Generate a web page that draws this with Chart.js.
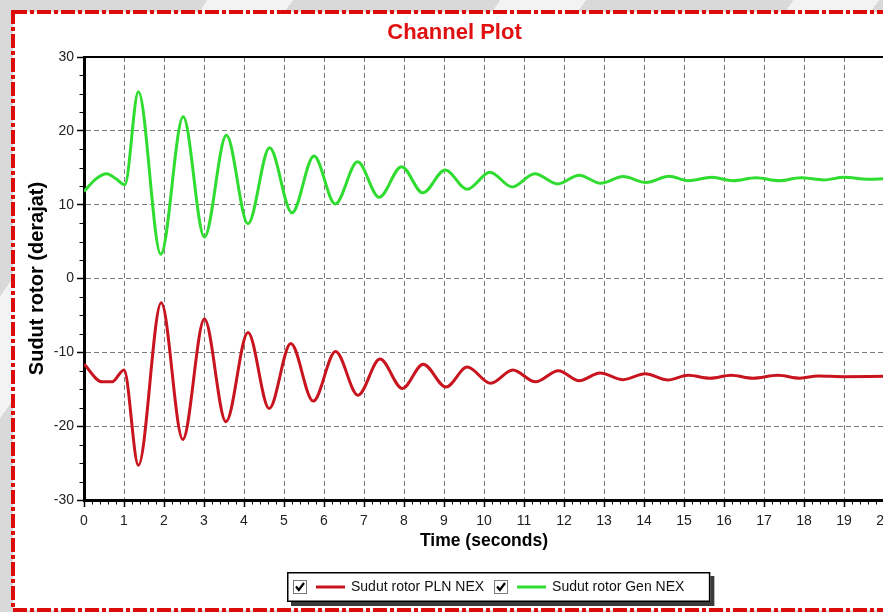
<!DOCTYPE html>
<html>
<head>
<meta charset="utf-8">
<title>Channel Plot</title>
<script src="https://cdn.jsdelivr.net/npm/chart.js@4.4.1/dist/chart.umd.min.js"></script>
<style>
  html, body {
    margin: 0; padding: 0; overflow: hidden;
    width: 883px; height: 612px;
    background: repeating-linear-gradient(125deg, #d9d9d9 0 170px, #f3f3f3 170px 240px);
  }
  #wrap { position: absolute; left: 0; top: 0; width: 900px; height: 612px; }
</style>
</head>
<body>
<div id="wrap"><canvas id="plot" width="900" height="612"></canvas></div>
<script>
// Rotor angle swing after the disturbance at t = 1 s (degrees vs seconds)
const seriesNames = ['Sudut rotor PLN NEX', 'Sudut rotor Gen NEX'];

const plnTime  = [0, 0.45, 0.7, 1.0, 1.36, 1.93, 2.47, 3.01, 3.55, 4.1, 4.63, 5.17, 5.73, 6.29, 6.85,
                  7.4, 7.96, 8.48, 9.05, 9.58, 10.17, 10.72, 11.29, 11.86, 12.38, 12.9, 13.48, 14.03,
                  14.6, 15.1, 15.65, 16.18, 16.72, 17.35, 17.9, 18.35, 19.0, 20.0];
const plnAngle = [-11.6, -14.0, -14.0, -12.4, -25.3, -3.3, -21.8, -5.5, -19.4, -7.3, -17.6, -8.8, -16.6, -9.9, -15.8,
                  -10.9, -14.9, -11.6, -14.7, -12.0, -14.2, -12.4, -14.0, -12.5, -13.85, -12.8, -13.7, -12.9,
                  -13.75, -13.1, -13.5, -13.1, -13.5, -13.1, -13.5, -13.2, -13.3, -13.25];

const genTime  = [0, 0.3, 0.57, 0.8, 1.02, 1.36, 1.92, 2.48, 3.01, 3.56, 4.1, 4.64, 5.2, 5.75, 6.28, 6.84,
                  7.38, 7.94, 8.47, 9.03, 9.58, 10.15, 10.7, 11.27, 11.84, 12.38, 12.92, 13.48, 14.05,
                  14.63, 15.1, 15.7, 16.22, 16.8, 17.38, 17.92, 18.5, 19.0, 19.6, 20.0];
const genAngle = [11.8, 13.5, 14.2, 13.5, 12.7, 25.3, 3.3, 21.9, 5.6, 19.4, 7.4, 17.7, 8.9, 16.6, 10.1, 15.8,
                  11.0, 15.15, 11.6, 14.7, 12.1, 14.4, 12.4, 14.2, 12.8, 14.0, 12.9, 13.8, 13.0,
                  13.85, 13.25, 13.7, 13.25, 13.65, 13.25, 13.65, 13.35, 13.7, 13.45, 13.5];

const timeTicks  = [0, 1, 2, 3, 4, 5, 6, 7, 8, 9, 10, 11, 12, 13, 14, 15, 16, 17, 18, 19, 20];
const angleTicks = [-30, -20, -10, 0, 10, 20, 30];

const FONT = "'Liberation Sans', Arial, Helvetica, sans-serif";
const RED = '#c8141e';
const GREEN = '#2fdc2f';

function points(ts, vs) { return ts.map((t, i) => ({ x: t, y: vs[i] })); }

// White panel with a red dash-dot frame behind the chart
const framePlugin = {
  id: 'frame',
  beforeDraw(chart) {
    const c = chart.ctx;
    c.save();
    c.fillStyle = '#ffffff';
    c.fillRect(13, 12, 884, 598);
    c.strokeStyle = '#dd0b0b';
    c.lineWidth = 4;
    c.setLineDash([14, 3, 4, 3]);
    c.strokeRect(13, 12, 884, 598);
    c.restore();
  }
};

// Minor tick marks and the thin top edge of the plot box
const minorTicks = {
  id: 'minorTicks',
  afterDraw(chart) {
    const c = chart.ctx, xs = chart.scales.x, ys = chart.scales.y, a = chart.chartArea;
    c.save();
    c.strokeStyle = '#000';
    c.lineWidth = 1;
    c.beginPath();
    for (let i = 0; i <= 100; i++) {
      if (i % 5 === 0) continue;
      const px = Math.round(xs.getPixelForValue(i / 5)) + 0.5;
      c.moveTo(px, a.bottom + 1); c.lineTo(px, a.bottom + 4.5);
    }
    for (let i = -12; i <= 12; i++) {
      if (i % 4 === 0) continue;
      const py = Math.round(ys.getPixelForValue(i * 2.5)) + 0.5;
      c.moveTo(a.left - 4.5, py); c.lineTo(a.left - 1, py);
    }
    c.stroke();
    c.lineWidth = 2;
    c.beginPath();
    c.moveTo(a.left, a.top); c.lineTo(a.right, a.top);
    c.stroke();
    c.restore();
  }
};

// Legend box with check boxes, line samples and series names
const legendBox = {
  id: 'legendBox',
  afterDraw(chart) {
    const c = chart.ctx;
    const sets = chart.data.datasets;
    c.save();
    c.font = '14px ' + FONT;
    const top = 572, h = 30, left = 287;
    let x = left + 6;
    const items = [];
    sets.forEach(ds => {
      const cb = x; x += 14 + 9;
      const l0 = x; x += 29 + 6;
      const tx = x; x += c.measureText(ds.label).width + 10;
      items.push({ cb, l0, tx, ds });
    });
    const right = x + 16;
    // shadow
    c.fillStyle = '#3a3a3a';
    c.fillRect(left + 4, top + 4, right - left, h);
    c.fillStyle = '#fff';
    c.fillRect(left, top, right - left, h);
    c.strokeStyle = '#000';
    c.lineWidth = 1.5;
    c.strokeRect(left + 0.75, top + 0.75, right - left - 1.5, h - 1.5);
    const cy = top + h / 2;
    items.forEach(it => {
      // check box
      c.fillStyle = '#fff';
      c.fillRect(it.cb, cy - 7, 14, 14);
      c.strokeStyle = '#7a7a7a';
      c.lineWidth = 1;
      c.strokeRect(it.cb + 0.5, cy - 6.5, 13, 13);
      c.strokeStyle = '#000';
      c.lineWidth = 2.2;
      c.beginPath();
      c.moveTo(it.cb + 3, cy - 0.5);
      c.lineTo(it.cb + 5.8, cy + 3);
      c.lineTo(it.cb + 11, cy - 4);
      c.stroke();
      // line sample
      c.strokeStyle = it.ds.borderColor;
      c.lineWidth = 3;
      c.beginPath();
      c.moveTo(it.l0, cy); c.lineTo(it.l0 + 29, cy);
      c.stroke();
      // name
      c.fillStyle = '#111';
      c.textBaseline = 'middle';
      c.textAlign = 'left';
      c.fillText(it.ds.label, it.tx, cy + 0.5);
    });
    c.restore();
  }
};

new Chart(document.getElementById('plot'), {
  type: 'line',
  data: {
    datasets: [
      { label: seriesNames[0], data: points(plnTime, plnAngle), borderColor: RED, backgroundColor: RED,
        borderWidth: 3, pointRadius: 0, cubicInterpolationMode: 'monotone', fill: false },
      { label: seriesNames[1], data: points(genTime, genAngle), borderColor: GREEN, backgroundColor: GREEN,
        borderWidth: 3, pointRadius: 0, cubicInterpolationMode: 'monotone', fill: false }
    ]
  },
  options: {
    responsive: false,
    animation: false,
    devicePixelRatio: 1,
    layout: { padding: { left: 25, right: 16, top: 0, bottom: 0 } },
    plugins: {
      legend: { display: false },
      tooltip: { enabled: false },
      title: {
        display: true, text: 'Channel Plot', color: '#e01010',
        font: { family: FONT, size: 22, weight: 'bold' },
        padding: { top: 19.8, bottom: 10.8 }
      }
    },
    scales: {
      x: {
        type: 'linear', min: 0, max: 20,
        afterBuildTicks: s => { s.ticks = timeTicks.map(v => ({ value: v })); },
        afterFit: s => { s.height = 112; },
        grid: { color: '#7a7a7a', lineWidth: 1, tickLength: 7, tickColor: '#000', tickWidth: 1.5 },
        border: { display: true, color: '#000', width: 3, dash: [5, 3] },
        ticks: { color: '#222', font: { family: FONT, size: 14 }, padding: 6, maxRotation: 0, autoSkip: false },
        title: { display: true, text: 'Time (seconds)', color: '#000',
                 font: { family: FONT, size: 17.5, weight: 'bold' }, padding: { top: 0, bottom: 60.5 } }
      },
      y: {
        type: 'linear', min: -30, max: 30,
        afterBuildTicks: s => { s.ticks = angleTicks.map(v => ({ value: v })); },
        afterFit: s => { s.width = 59; },
        grid: { color: '#7a7a7a', lineWidth: 1, tickLength: 7, tickColor: '#000', tickWidth: 1.5 },
        border: { display: true, color: '#000', width: 3, dash: [5, 3] },
        ticks: { color: '#222', font: { family: FONT, size: 14 }, padding: 3 },
        title: { display: true, text: 'Sudut rotor (derajat)', color: '#000',
                 font: { family: FONT, size: 20, weight: 'bold' }, padding: { top: 0, bottom: 0 } }
      }
    }
  },
  plugins: [framePlugin, minorTicks, legendBox]
});
</script>
</body>
</html>
